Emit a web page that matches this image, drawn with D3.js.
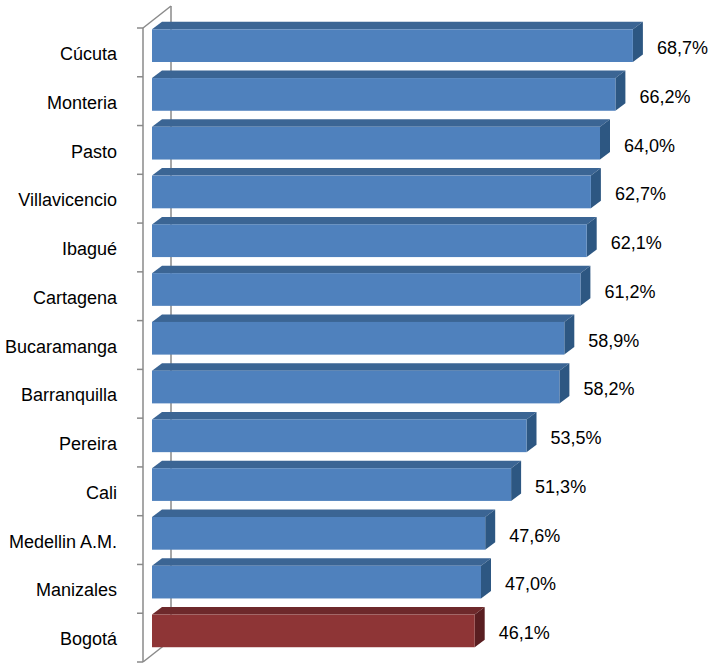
<!DOCTYPE html>
<html><head><meta charset="utf-8">
<script src="https://cdn.jsdelivr.net/npm/d3@7"></script>
<style>body{margin:0;background:#fff}svg{display:block}</style>
</head><body>
<svg id="c" width="710" height="663"></svg>
<script>
const categories = ["Cúcuta","Monteria","Pasto","Villavicencio","Ibagué","Cartagena","Bucaramanga","Barranquilla","Pereira","Cali","Medellin A.M.","Manizales","Bogotá"];
const values = [68.7,66.2,64.0,62.7,62.1,61.2,58.9,58.2,53.5,51.3,47.6,47.0,46.1];
const highlight = ["Bogotá"];

const svg = d3.select("#c");
const font = "'Liberation Sans', Arial, sans-serif";
const y = d3.scaleBand().domain(categories).range([28, 662]).paddingInner(0).paddingOuter(0);
const x = d3.scaleLinear().domain([0, 70]).range([152, 642]);
const dx = 10, dy = -7.5;
const wdx = 28, wdy = -22;
const axisX = 143;
const gray = "#8a8a8a";

// back wall / floor edges
const back = svg.append("g").attr("stroke", gray).attr("stroke-width", 1.5).attr("fill", "none");
back.append("line").attr("x1", axisX).attr("y1", y.range()[0]).attr("x2", axisX + wdx).attr("y2", y.range()[0] + wdy);
back.append("line").attr("x1", axisX + wdx).attr("y1", y.range()[0] + wdy).attr("x2", axisX + wdx).attr("y2", y.range()[1] + wdy);
back.append("line").attr("x1", axisX).attr("y1", y.range()[1]).attr("x2", axisX + wdx).attr("y2", y.range()[1] + wdy);

// bars
const data = categories.map((c, i) => ({c, v: values[i], hl: highlight.includes(c)}));
const pal = {
  blue: {front: "#4f81bd", top: "#3b6594", side: "#2d5782"},
  red:  {front: "#8e3536", top: "#6e292b", side: "#591e21"}
};
const bars = svg.append("g").selectAll("g").data(data).join("g");
bars.each(function(d) {
  const g = d3.select(this);
  const p = d.hl ? pal.red : pal.blue;
  const x0 = x(0), x1 = x(d.v);
  const t = y(d.c) + 1.3, b = y(d.c) + 34;
  g.append("path").attr("fill", p.top)
    .attr("d", `M${x0},${t}L${x0+dx},${t+dy}L${x1+dx},${t+dy}L${x1},${t}Z`);
  g.append("path").attr("fill", p.side)
    .attr("d", `M${x1},${t}L${x1+dx},${t+dy}L${x1+dx},${b+dy}L${x1},${b}Z`);
  g.append("rect").attr("fill", p.front).attr("x", x0).attr("y", t).attr("width", x1 - x0).attr("height", b - t);
  g.append("text").attr("x", x1 + dx + 14).attr("y", y(d.c) + 26)
    .attr("font-family", font).attr("font-size", 18).attr("fill", "#000")
    .text(d.v.toFixed(1).replace(".", ",") + "%");
});

// front axis with ticks
const fa = svg.append("g").attr("stroke", gray).attr("stroke-width", 1.5);
fa.append("line").attr("x1", axisX).attr("y1", y.range()[0]).attr("x2", axisX).attr("y2", y.range()[1]);
const bounds = categories.map(c => y(c)).concat([y.range()[1]]);
fa.selectAll(".tk").data(bounds).join("line")
  .attr("x1", axisX - 6).attr("x2", axisX).attr("y1", d => d).attr("y2", d => d);

// category labels
svg.append("g").selectAll("text").data(categories).join("text")
  .attr("x", 117).attr("y", d => y(d) + 32).attr("text-anchor", "end")
  .attr("font-family", font).attr("font-size", 18).attr("fill", "#000")
  .text(d => d);
</script>
</body></html>
